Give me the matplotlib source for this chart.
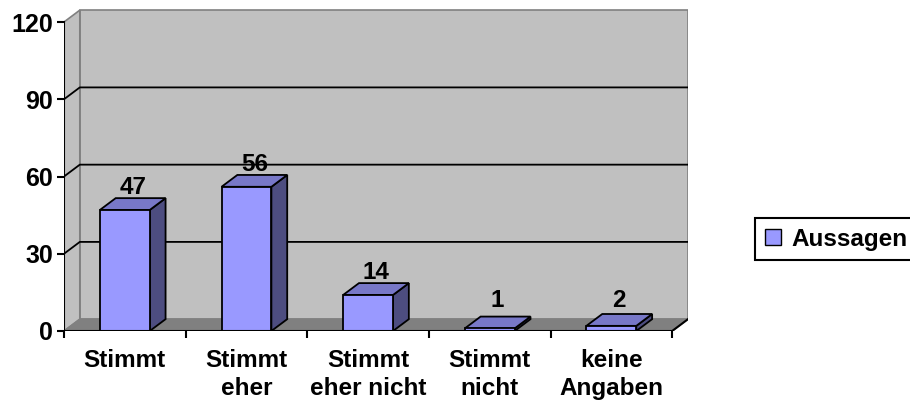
import matplotlib
matplotlib.use('Agg')
from matplotlib import pyplot as plt
from matplotlib.patches import Polygon, Rectangle, Patch

plt.rcParams['font.family'] = ['Liberation Sans', 'DejaVu Sans']
plt.rcParams['font.weight'] = 'bold'

# data
categories = ["Stimmt", "Stimmt\neher", "Stimmt\neher nicht", "Stimmt\nnicht", "keine\nAngaben"]
values = [47, 56, 14, 1, 2]
yticks = [0, 30, 60, 90, 120]
series_name = "Aussagen"

# 3d look: depth offset in data units
DX = 0.13
DY = 4.6
BAR_W = 0.41
FRONT = '#9999FF'
TOP = '#7878C8'
SIDE = '#4D4D80'
WALL = '#C0C0C0'
FLOOR = '#808080'
FS = 17.5

fig = plt.figure(figsize=(9.1, 4.03), dpi=100)
# front plane: x=-0.5 at 64px, 121.6px per category; y=0 at 331px, 2.575px per unit
ax = fig.add_axes([64 / 910, 72 / 403, 624 / 910, 323 / 403])
n = len(values)
x0, x1 = -0.5, n - 0.5
ax.set_xlim(x0, x1 + DX)
ax.set_ylim(0, 323 / 2.575)
for s in ax.spines.values():
    s.set_visible(False)

top = yticks[-1]
# walls and floor
ax.add_patch(Rectangle((x0 + DX, DY), x1 - x0, top, facecolor=WALL, edgecolor=FLOOR, lw=1.2, zorder=1))
ax.add_patch(Polygon([(x0, 0), (x0 + DX, DY), (x0 + DX, top + DY), (x0, top)],
                     closed=True, facecolor=WALL, edgecolor=FLOOR, lw=1.2, zorder=1))
ax.add_patch(Polygon([(x0, 0), (x1, 0), (x1 + DX, DY), (x0 + DX, DY)],
                     closed=True, facecolor=FLOOR, edgecolor=FLOOR, lw=1, zorder=1.5))
# gridlines
for g in yticks[1:-1]:
    ax.plot([x0, x0 + DX, x1 + DX], [g, g + DY, g + DY], color='black', lw=1.3, zorder=2)
# front axes lines
ax.plot([x0, x0], [0, top], color='black', lw=1.5, zorder=5)
ax.plot([x0, x1, x1 + DX], [0, 0, DY], color='black', lw=1.5, zorder=5)

# bars
for i, v in enumerate(values):
    l, r = i - BAR_W / 2, i + BAR_W / 2
    ax.add_patch(Polygon([(r, 0), (r + DX, DY), (r + DX, v + DY), (r, v)],
                         closed=True, facecolor=SIDE, edgecolor='black', lw=1.3, zorder=3))
    ax.add_patch(Polygon([(l, v), (r, v), (r + DX, v + DY), (l + DX, v + DY)],
                         closed=True, facecolor=TOP, edgecolor='black', lw=1.3, zorder=3))
    ax.add_patch(Rectangle((l, 0), BAR_W, v, facecolor=FRONT, edgecolor='black', lw=1.3, zorder=4))
    ax.text(i + DX / 2, max(v + DY + 1.5, 9.3), str(v), ha='center', va='baseline',
            fontsize=FS, fontweight='bold', zorder=6)

ax.set_yticks(yticks)
ax.set_yticklabels([str(t) for t in yticks], fontsize=FS + 0.5, fontweight='bold')
ax.tick_params(axis='y', length=5, width=1.5, direction='out', pad=3)
ax.set_xticks([k - 0.5 for k in range(n + 1)])
ax.set_xticklabels([])
ax.tick_params(axis='x', which='major', length=5, width=1.5, direction='out')
ax.set_xticks(range(n), categories, minor=True)
ax.tick_params(axis='x', which='minor', length=0, pad=13, labelsize=FS)
for t in ax.get_xticklabels(minor=True):
    t.set_fontweight('bold')
    t.set_linespacing(1.25)
    t.set_verticalalignment('top')

leg = fig.legend(handles=[Patch(facecolor=FRONT, edgecolor='black', lw=1, label=series_name)],
                 loc='center left', bbox_to_anchor=(755 / 910, 1 - 239 / 403),
                 prop={'size': FS, 'weight': 'bold'}, fancybox=False, framealpha=1,
                 edgecolor='black', handlelength=0.65, handleheight=0.65, handletextpad=0.45,
                 borderpad=0.4, borderaxespad=0)
leg.get_frame().set_linewidth(1.5)

fig.savefig('out.png', dpi=100)
